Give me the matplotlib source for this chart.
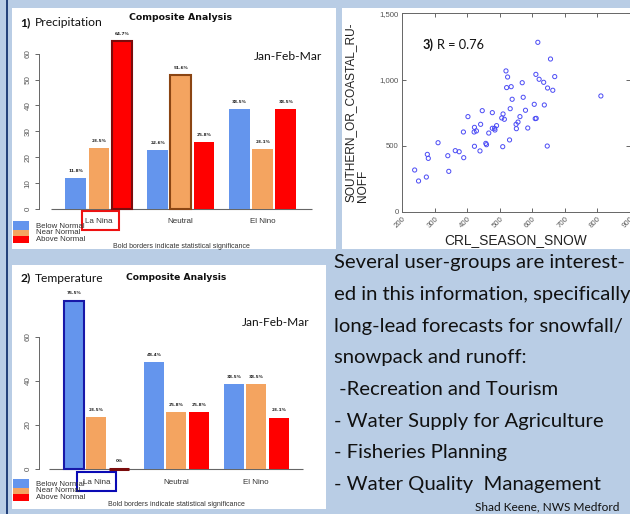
import matplotlib
matplotlib.use("Agg")
import matplotlib.pyplot as plt
from matplotlib.patches import Rectangle
from matplotlib.ticker import StrMethodFormatter

# ---------------------------------------------------------------- data
groups = ["La Nina", "Neutral", "El Nino"]
classes = ["Below Normal", "Near Normal", "Above Normal"]
class_colors = ["#6495ED", "#F4A460", "#FF0000"]
sig_edges = ["#1818a8", "#8b4513", "#7a0c0c"]

precip_below = [11.8, 22.6, 38.5]
precip_near = [23.5, 51.6, 23.1]
precip_above = [64.7, 25.8, 38.5]
precip_significant = [(0, 2), (1, 1)]          # (group, class) pairs

temp_below = [76.5, 48.4, 38.5]
temp_near = [23.5, 25.8, 38.5]
temp_above = [0.0, 25.8, 23.1]
temp_significant = [(0, 0), (0, 2)]

precip_yticks = [0, 10, 20, 30, 40, 50, 60]
temp_yticks = [0, 20, 40, 60]

snow = [238, 250, 274, 277, 280, 310, 340, 343, 363, 375, 388, 389, 402, 422,
        422, 421, 428, 439, 441, 446, 457, 459, 466, 477, 477, 484, 485, 490,
        509, 506, 510, 514, 519, 524, 521, 532, 530, 535, 538, 550, 551, 556,
        562, 569, 572, 579, 586, 606, 609, 612, 611, 617, 621, 635, 637, 646,
        647, 656, 663, 669, 811]
runoff = [317, 234, 264, 435, 405, 523, 425, 307, 463, 455, 604, 410, 720, 496,
          639, 604, 612, 461, 662, 765, 518, 508, 596, 750, 632, 632, 619, 652,
          493, 710, 740, 700, 1065, 1019, 939, 780, 544, 946, 851, 662, 629, 679,
          720, 976, 866, 768, 634, 813, 705, 707, 1039, 1281, 1002, 979, 808, 498,
          936, 1155, 919, 1022, 876]
r_value = 0.76
scatter_xticks = [200, 300, 400, 500, 600, 700, 800, 900]
scatter_yticks = [0, 500, 1000, 1500]

paragraph = [
    "Several user-groups are interest-",
    "ed in this information, specifically",
    "long-lead forecasts for snowfall/",
    "snowpack and runoff:",
    " -Recreation and Tourism",
    "- Water Supply for Agriculture",
    "- Fisheries Planning",
    "- Water Quality  Management",
]
credit = "Shad Keene, NWS Medford"

# ---------------------------------------------------------------- canvas
W, H = 630, 514
BG = "#B9CDE5"
fig = plt.figure(figsize=(W / 100, H / 100), dpi=100, facecolor=BG)
renderer = fig.canvas.get_renderer()

# pixel-space layer for panels and free text
bg = fig.add_axes([0, 0, 1, 1])
bg.set_xlim(0, W)
bg.set_ylim(H, 0)
bg.axis("off")
bg.set_zorder(0)

bg.add_patch(Rectangle((6.2, 0), 2.0, H, color="#24427a", lw=0))
for (x0, y0, x1, y1) in [(12, 7.5, 336, 248.7), (341.7, 7.5, 630, 248.7),
                         (12, 265, 326, 509)]:
    bg.add_patch(Rectangle((x0, y0), x1 - x0, y1 - y0, color="white", lw=0))


def sized_text(ax, x, y, s, width, **kw):
    """Place a text whose rendered width is `width` pixels."""
    t = ax.text(x, y, s, fontsize=10, **kw)
    w = t.get_window_extent(renderer).width
    t.set_fontsize(10 * width / w)
    return t


def px_axes(x0, y0, x1, y1):
    ax = fig.add_axes([x0 / W, 1 - y1 / H, (x1 - x0) / W, (y1 - y0) / H])
    ax.set_facecolor("none")
    ax.set_zorder(1)
    return ax


GROUP_STEP, BAR_STEP, BAR_W = 3.9, 1.1, 0.98


def composite_panel(box, x0px, unit, y0px, yscale, below, near, above,
                    significant, yticks, axis_span):
    bl, bt, br, bb = box
    ax = px_axes(bl, bt, br, bb)
    ax.set_xlim((bl - x0px) / unit, (br - x0px) / unit)
    ax.set_ylim(-(bb - y0px) / yscale, (y0px - bt) / yscale)

    series = [below, near, above]
    for g in range(len(groups)):
        for c in range(len(classes)):
            v = series[c][g]
            xc = g * GROUP_STEP + c * BAR_STEP
            sig = (g, c) in significant
            ax.bar(xc, v, width=BAR_W, color=class_colors[c],
                   edgecolor=sig_edges[c] if sig else "none",
                   linewidth=(2.2 if v == 0 else 1.5) if sig else 0, zorder=2)
            ax.annotate(f"{v:g}%", (xc, v), xytext=(0, 5.4),
                        textcoords="offset points", ha="center", va="center",
                        fontsize=3.1, fontweight="bold", color="#222222",
                        family="DejaVu Sans")
        ax.text(g * GROUP_STEP + BAR_STEP, -(axis_span[2]) / yscale,
                groups[g], ha="center", va="center", fontsize=5.8,
                color="#333333", family="Liberation Sans")

    ax.plot([(axis_span[0] - x0px) / unit, (axis_span[1] - x0px) / unit],
            [0, 0], color="#666666", lw=0.8, zorder=1, solid_capstyle="butt")

    for s in ["top", "right", "bottom"]:
        ax.spines[s].set_visible(False)
    ax.spines["left"].set_position(("data", (axis_span[3] - x0px) / unit))
    ax.spines["left"].set_bounds(yticks[0], yticks[-1])
    ax.spines["left"].set_color("#666666")
    ax.spines["left"].set_linewidth(0.7)
    ax.set_xticks([])
    ax.set_yticks(yticks)
    ax.set_yticklabels([str(t) for t in yticks], rotation=90, va="center",
                       family="Liberation Sans")
    ax.tick_params(axis="y", length=3.2, width=0.7, color="#666666",
                   labelsize=5.8, labelcolor="#555555", pad=2.2)
    return ax


# ---------------------------------------------------------------- panel 1
composite_panel((12, 7.5, 336, 248.7), 75.7, 21.0, 209.0, 2.59,
                precip_below, precip_near, precip_above, precip_significant,
                precip_yticks, (50.7, 311.7, 221.7 - 209.0, 39.0))
t = sized_text(bg, 35, 26, "Precipitation", 68, family="Lato", color="#111111")
bg.text(20.5, 26, "1)", fontsize=t.get_fontsize(), family="Lato",
        fontweight="bold", color="#111111")
sized_text(bg, 181, 20, "Composite Analysis", 103, family="DejaVu Sans",
           fontweight="bold", ha="center", color="#111111")
sized_text(bg, 254, 60, "Jan-Feb-Mar", 68, family="Lato", color="#111111")
bg.add_patch(Rectangle((82, 210.7), 37, 19.3, fill=False, ec="#ee1111", lw=1.5))

# ---------------------------------------------------------------- panel 2
composite_panel((12, 265, 326, 509), 73.8, 20.5, 468.7, 2.195,
                temp_below, temp_near, temp_above, temp_significant,
                temp_yticks, (49.3, 303.3, 482.0 - 468.7, 39.3))
t = sized_text(bg, 35, 281.5, "Temperature", 69, family="Lato", color="#111111")
bg.text(20.5, 281.5, "2)", fontsize=t.get_fontsize(), family="Lato",
        fontweight="bold", color="#111111")
sized_text(bg, 176, 280, "Composite Analysis", 101, family="DejaVu Sans",
           fontweight="bold", ha="center", color="#111111")
sized_text(bg, 242, 326, "Jan-Feb-Mar", 67, family="Lato", color="#111111")
bg.add_patch(Rectangle((77.3, 472.3), 38.4, 18.7, fill=False, ec="#0a0ab4", lw=1.5))

# legends and footnotes of the composite panels
for top, foot_x, foot_y in [(221.0, 181, 246.0), (479.0, 176, 505.0)]:
    heights = [9.0, 6.0, 7.0]
    y = top
    for c, lab in enumerate(classes):
        bg.add_patch(Rectangle((13, y), 16, heights[c], color=class_colors[c], lw=0))
        bg.text(36, y + heights[c] / 2 + (0.6 if c == 0 else 0), lab,
                fontsize=5.6, family="Liberation Sans", color="#333333",
                va="center")
        y += heights[c]
    bg.text(foot_x, foot_y, "Bold borders indicate statistical significance",
            fontsize=5.0, family="Liberation Sans", color="#333333",
            ha="center", va="center")

# ---------------------------------------------------------------- panel 3
sx = px_axes(402.3, 13.3, 629.8, 212.0)
sx.scatter(snow, runoff, s=9, facecolors="none", edgecolors="#4b4bf5",
           linewidths=0.7, zorder=3)
sx.set_xlim(200, 900)
sx.set_ylim(0, 1500)
sx.set_xticks(scatter_xticks)
sx.set_yticks(scatter_yticks)
sx.yaxis.set_major_formatter(StrMethodFormatter("{x:,.0f}"))
for s in sx.spines.values():
    s.set_color("#666666")
    s.set_linewidth(0.7)
sx.tick_params(direction="in", top=True, right=True, length=3, width=0.7,
               color="#666666", labelsize=5.6, labelcolor="#555555", pad=2.5)
for lab in sx.get_xticklabels():
    lab.set_rotation(45)
    lab.set_ha("right")
    lab.set_va("top")
    lab.set_rotation_mode("anchor")
    lab.set_family("Liberation Sans")
for lab in sx.get_yticklabels():
    lab.set_family("Liberation Sans")

bg.text(357, 202, "SOUTHERN_OR_COASTAL_RU-\nNOFF", rotation=90, ha="center",
        va="bottom", ma="left", fontsize=8.6, family="Liberation Sans",
        color="#222222", linespacing=1.0)
sized_text(bg, 515.7, 244, "CRL_SEASON_SNOW", 143, family="Liberation Sans",
           ha="center", color="#222222")
t = sized_text(bg, 437, 49, f"R = {r_value:.2f}", 47, family="Lato",
               color="#111111")
bg.text(423, 49, "3)", fontsize=t.get_fontsize(), family="Lato",
        fontweight="bold", color="#111111")

# ---------------------------------------------------------------- text block
t = sized_text(bg, 334, 268.3, paragraph[0], 291, family="Lato", color="#111111")
fs = t.get_fontsize()
for i, line in enumerate(paragraph[1:], start=1):
    bg.text(334, 268.3 + i * 31.66, line, fontsize=fs, family="Lato",
            color="#111111")
sized_text(bg, 475, 510.7, credit, 145, family="Lato", color="#111111")

fig.savefig("out.png", dpi=100, facecolor=BG)
